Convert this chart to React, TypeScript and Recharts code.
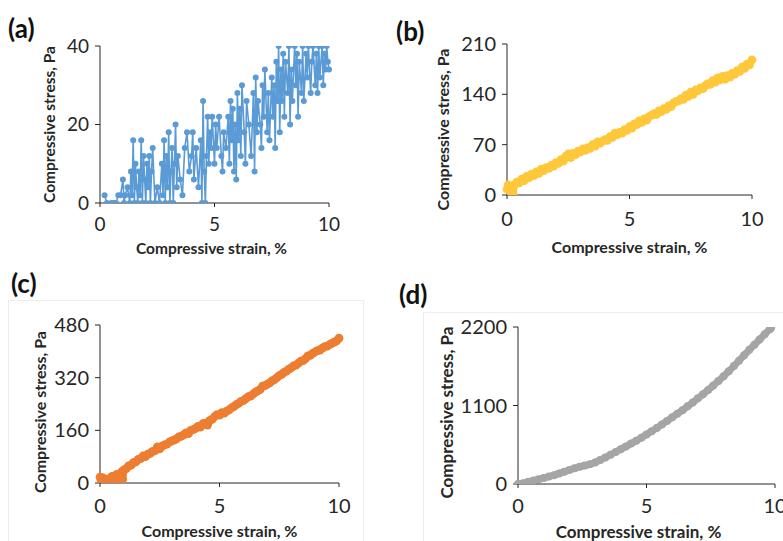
import React from 'react';
import { LineChart, Line, XAxis, YAxis } from 'recharts';

// strain (%) vs stress (Pa)
const strainTicks = [0, 5, 10];

const panelA: [number, number][] = [
  [0.2, 2], [0.3, 0], [0.5, 0], [0.6, 0], [0.7, 0], [0.8, 2], [0.9, 2], [1.0, 6], [1.05, 0], [1.1, 2],
  [1.2, 4], [1.3, 0], [1.35, 8], [1.4, 2], [1.45, 16], [1.5, 0], [1.55, 10], [1.6, 4], [1.65, 0], [1.7, 8],
  [1.75, 2], [1.8, 16], [1.85, 0], [1.9, 12], [1.95, 6], [2.0, 0], [2.05, 10], [2.1, 4], [2.15, 12], [2.2, 0],
  [2.25, 8], [2.3, 14], [2.4, 0], [2.5, 4], [2.6, 0], [2.7, 10], [2.75, 2], [2.8, 16], [2.85, 0], [2.9, 12],
  [2.95, 4], [3.0, 18], [3.05, 0], [3.1, 8], [3.15, 14], [3.2, 0], [3.25, 10], [3.3, 20], [3.35, 4], [3.4, 12],
  [3.5, 6], [3.6, 2], [3.7, 14], [3.8, 18], [3.9, 8], [4.0, 12], [4.05, 18], [4.1, 6], [4.2, 14], [4.3, 4],
  [4.4, 16], [4.45, 0], [4.5, 26], [4.55, 8], [4.6, 0], [4.65, 12], [4.7, 22], [4.75, 10], [4.8, 18], [4.85, 14],
  [4.9, 22], [5.0, 10], [5.05, 20], [5.1, 14], [5.2, 22], [5.3, 12], [5.35, 8], [5.4, 18], [5.5, 14], [5.6, 22],
  [5.65, 10], [5.7, 26], [5.75, 16], [5.8, 24], [5.85, 8], [5.9, 20], [5.95, 6], [6.0, 28], [6.05, 16], [6.1, 24],
  [6.15, 12], [6.2, 30], [6.3, 18], [6.35, 10], [6.4, 26], [6.5, 20], [6.6, 12], [6.7, 28], [6.75, 8], [6.8, 32],
  [6.85, 18], [6.9, 26], [7.0, 20], [7.05, 14], [7.1, 30], [7.15, 22], [7.2, 34], [7.3, 18], [7.35, 28], [7.4, 16],
  [7.5, 32], [7.55, 22], [7.6, 30], [7.65, 14], [7.7, 36], [7.75, 26], [7.8, 40], [7.85, 18], [7.9, 34], [7.95, 26],
  [8.0, 38], [8.05, 22], [8.1, 36], [8.2, 28], [8.25, 40], [8.3, 20], [8.35, 34], [8.4, 26], [8.5, 40], [8.55, 30],
  [8.6, 38], [8.65, 22], [8.7, 36], [8.8, 28], [8.85, 40], [8.9, 26], [9.0, 38], [9.05, 32], [9.1, 40], [9.2, 28],
  [9.25, 36], [9.3, 40], [9.4, 30], [9.45, 38], [9.5, 28], [9.55, 40], [9.6, 32], [9.7, 40], [9.75, 30], [9.8, 38],
  [9.85, 34], [9.9, 40], [9.95, 36], [10.0, 34],
];

const panelB: [number, number][] = [
  [0.0, 8], [0.05, 14], [0.1, 10], [0.15, 4], [0.2, 12], [0.25, 2], [0.3, 14], [0.4, 18], [0.5, 17], [0.6, 22],
  [0.7, 20], [0.8, 26], [0.9, 24], [1.0, 29], [1.1, 27], [1.2, 32], [1.3, 30], [1.4, 36], [1.5, 34], [1.6, 38],
  [1.7, 37], [1.8, 41], [1.9, 40], [2.0, 45], [2.1, 44], [2.2, 49], [2.3, 47], [2.4, 54], [2.5, 57], [2.6, 52],
  [2.7, 58], [2.8, 56], [2.9, 61], [3.0, 60], [3.1, 64], [3.2, 62], [3.3, 66], [3.4, 65], [3.5, 70], [3.6, 68],
  [3.7, 74], [3.8, 72], [3.9, 75], [4.0, 77], [4.1, 76], [4.2, 81], [4.3, 80], [4.4, 86], [4.5, 84], [4.6, 87],
  [4.7, 86], [4.8, 91], [4.9, 90], [5.0, 95], [5.1, 93], [5.2, 99], [5.3, 98], [5.4, 103], [5.5, 101], [5.6, 106],
  [5.7, 104], [5.8, 109], [5.9, 111], [6.0, 113], [6.1, 112], [6.2, 117], [6.3, 116], [6.4, 120], [6.5, 119], [6.6, 124],
  [6.7, 123], [6.8, 128], [6.9, 130], [7.0, 131], [7.1, 134], [7.2, 133], [7.3, 139], [7.4, 137], [7.5, 143], [7.6, 140],
  [7.7, 146], [7.8, 145], [7.9, 149], [8.0, 148], [8.1, 152], [8.2, 155], [8.3, 154], [8.4, 159], [8.5, 157], [8.6, 163],
  [8.7, 160], [8.8, 165], [8.9, 161], [9.0, 166], [9.1, 164], [9.2, 169], [9.3, 168], [9.4, 173], [9.5, 172], [9.6, 178],
  [9.7, 176], [9.8, 182], [9.9, 181], [10.0, 188],
];

const panelC: [number, number][] = [
  [0.0, 18], [0.05, 8], [0.1, 16], [0.15, 6], [0.2, 2], [0.3, 12], [0.35, 0], [0.4, 8], [0.5, 20], [0.55, 2],
  [0.6, 12], [0.7, 26], [0.75, 4], [0.8, 18], [0.9, 34], [0.95, 12], [1.0, 40], [1.1, 44], [1.2, 52], [1.3, 54],
  [1.4, 62], [1.5, 64], [1.6, 72], [1.7, 74], [1.8, 82], [1.9, 80], [2.0, 88], [2.1, 90], [2.2, 96], [2.3, 98],
  [2.4, 110], [2.5, 104], [2.6, 112], [2.7, 116], [2.8, 118], [2.9, 124], [3.0, 128], [3.1, 130], [3.2, 134], [3.3, 140],
  [3.4, 142], [3.5, 146], [3.6, 152], [3.7, 150], [3.8, 160], [3.9, 162], [4.0, 166], [4.1, 172], [4.2, 170], [4.3, 180],
  [4.4, 182], [4.5, 176], [4.6, 190], [4.7, 194], [4.8, 202], [4.9, 208], [5.0, 206], [5.1, 214], [5.2, 212], [5.3, 218],
  [5.4, 222], [5.5, 228], [5.6, 232], [5.7, 238], [5.8, 242], [5.9, 248], [6.0, 250], [6.1, 256], [6.2, 262], [6.3, 264],
  [6.4, 270], [6.5, 276], [6.6, 280], [6.7, 284], [6.8, 294], [6.9, 296], [7.0, 300], [7.1, 304], [7.2, 310], [7.3, 314],
  [7.4, 320], [7.5, 326], [7.6, 330], [7.7, 336], [7.8, 340], [7.9, 346], [8.0, 350], [8.1, 356], [8.2, 358], [8.3, 364],
  [8.4, 370], [8.5, 372], [8.6, 378], [8.7, 386], [8.8, 388], [8.9, 394], [9.0, 398], [9.1, 402], [9.2, 404], [9.3, 410],
  [9.4, 414], [9.5, 416], [9.6, 420], [9.7, 424], [9.8, 428], [9.9, 432], [10.0, 440],
];

const panelD: [number, number][] = [
  [0.0, 0], [0.2, 12], [0.4, 30], [0.6, 48], [0.8, 66], [1.0, 84], [1.2, 104], [1.4, 124], [1.6, 148], [1.8, 172],
  [2.0, 196], [2.2, 220], [2.4, 242], [2.6, 258], [2.8, 276], [3.0, 302], [3.2, 336], [3.4, 372], [3.6, 410], [3.8, 448],
  [4.0, 488], [4.2, 526], [4.4, 566], [4.6, 606], [4.8, 648], [5.0, 694], [5.2, 738], [5.4, 786], [5.6, 834], [5.8, 884],
  [6.0, 935], [6.2, 985], [6.4, 1035], [6.6, 1088], [6.8, 1142], [7.0, 1200], [7.2, 1258], [7.4, 1318], [7.6, 1380], [7.8, 1445],
  [8.0, 1510], [8.2, 1580], [8.4, 1652], [8.6, 1728], [8.8, 1804], [9.0, 1880], [9.2, 1952], [9.4, 2025], [9.6, 2098], [9.8, 2170],
  [9.85, 2190],
];

const FONT = 'Lato, "Open Sans", sans-serif';
const INK = '#262626';

type PanelProps = {
  tag: string;
  points: [number, number][];
  yMax: number;
  yTicks: number[];
  color: string;
  lineWidth: number;
  dotR: number;
  box: { left: number; top: number; width: number; height: number };
  plot: { left: number; right: number; top: number; bottom: number };
  tickSize: number;
  tickGapX: number;
  tickGapY: number;
  titleSize: number;
  yTitleX: number;
  yTitleDy: number;
  xTitleOffset: number;
  xTitleDx: number;
  tagPos: { x: number; y: number };
};

function Panel(p: PanelProps) {
  const data = p.points.map(([strain, stress]) => ({ strain, stress }));
  const tick = { fill: INK, fontSize: p.tickSize, fontFamily: FONT };
  const titleStyle = { fontFamily: FONT, fontWeight: 700, fontSize: p.titleSize, fill: INK, textAnchor: 'middle' as const };
  return (
    <>
      <div
        style={{
          position: 'absolute',
          left: p.tagPos.x,
          top: p.tagPos.y,
          fontFamily: FONT,
          fontWeight: 700,
          fontSize: 26,
          color: '#111',
          lineHeight: 1,
        }}
      >
        {p.tag}
      </div>
      <div style={{ position: 'absolute', left: p.box.left, top: p.box.top }}>
        <LineChart
          width={p.box.width}
          height={p.box.height}
          data={data}
          margin={{
            top: p.plot.top - p.box.top,
            right: p.box.left + p.box.width - p.plot.right,
            left: 0,
            bottom: 0,
          }}
        >
          <XAxis
            dataKey="strain"
            type="number"
            domain={[0, 10]}
            ticks={strainTicks}
            interval={0}
            height={p.box.top + p.box.height - p.plot.bottom}
            stroke={INK}
            tickSize={4}
            tickMargin={p.tickGapX}
            tick={tick}
            label={{
              value: 'Compressive strain, %',
              position: 'insideBottom',
              offset: p.xTitleOffset,
              dx: p.xTitleDx,
              style: titleStyle,
            }}
          />
          <YAxis
            dataKey="stress"
            type="number"
            domain={[0, p.yMax]}
            ticks={p.yTicks}
            interval={0}
            allowDataOverflow
            width={p.plot.left - p.box.left}
            stroke={INK}
            tickSize={5}
            tickMargin={p.tickGapY}
            tick={tick}
            label={{
              value: 'Compressive stress, Pa',
              angle: -90,
              position: 'insideLeft',
              offset: p.yTitleX - p.box.left,
              dy: p.yTitleDy,
              style: titleStyle,
            }}
          />
          <Line
            type="linear"
            dataKey="stress"
            stroke={p.color}
            strokeWidth={p.lineWidth}
            strokeLinejoin="round"
            dot={{ r: p.dotR, fill: p.color, stroke: 'none' }}
            isAnimationActive={false}
          />
        </LineChart>
      </div>
    </>
  );
}

export default function App() {
  return (
    <div
      style={{
        position: 'absolute',
        left: 0,
        top: 0,
        width: 783,
        height: 541,
        overflow: 'hidden',
        background: '#fff',
      }}
    >
      {/* faint chart-area frames around the lower panels */}
      <div style={{ position: 'absolute', left: 8, top: 300, width: 354, height: 260, border: '1px solid #ededed' }} />
      <div style={{ position: 'absolute', left: 423, top: 312, width: 400, height: 260, border: '1px solid #ededed' }} />

      <Panel
        tag="(a)"
        points={panelA}
        yMax={40}
        yTicks={[0, 20, 40]}
        color="#5B9BD5"
        lineWidth={1.6}
        dotR={3}
        box={{ left: 0, top: 0, width: 345, height: 262 }}
        plot={{ left: 100, right: 329, top: 46, bottom: 203 }}
        tickSize={19}
        tickGapX={11}
        tickGapY={6}
        titleSize={15.5}
        yTitleX={49}
        yTitleDy={0}
        xTitleOffset={8}
        xTitleDx={-3}
        tagPos={{ x: 8, y: 15 }}
      />
      <Panel
        tag="(b)"
        points={panelB}
        yMax={210}
        yTicks={[0, 70, 140, 210]}
        color="#FFC83A"
        lineWidth={7}
        dotR={4.4}
        box={{ left: 390, top: 0, width: 393, height: 262 }}
        plot={{ left: 507, right: 752, top: 44, bottom: 195 }}
        tickSize={20}
        tickGapX={13}
        tickGapY={6}
        titleSize={16}
        yTitleX={443}
        yTitleDy={10}
        xTitleOffset={9}
        xTitleDx={0}
        tagPos={{ x: 396, y: 18 }}
      />
      <Panel
        tag="(c)"
        points={panelC}
        yMax={480}
        yTicks={[0, 160, 320, 480]}
        color="#ED7D31"
        lineWidth={7}
        dotR={4.4}
        box={{ left: 0, top: 270, width: 390, height: 271 }}
        plot={{ left: 100, right: 339, top: 325, bottom: 483 }}
        tickSize={20}
        tickGapX={12}
        tickGapY={6}
        titleSize={16}
        yTitleX={40}
        yTitleDy={8}
        xTitleOffset={4}
        xTitleDx={0}
        tagPos={{ x: 11, y: 270 }}
      />
      <Panel
        tag="(d)"
        points={panelD}
        yMax={2200}
        yTicks={[0, 1100, 2200]}
        color="#A5A5A5"
        lineWidth={7}
        dotR={4}
        box={{ left: 390, top: 270, width: 393, height: 271 }}
        plot={{ left: 518, right: 775, top: 327, bottom: 484 }}
        tickSize={20}
        tickGapX={11}
        tickGapY={6}
        titleSize={17}
        yTitleX={447}
        yTitleDy={7}
        xTitleOffset={3}
        xTitleDx={-8}
        tagPos={{ x: 399, y: 281 }}
      />
    </div>
  );
}
